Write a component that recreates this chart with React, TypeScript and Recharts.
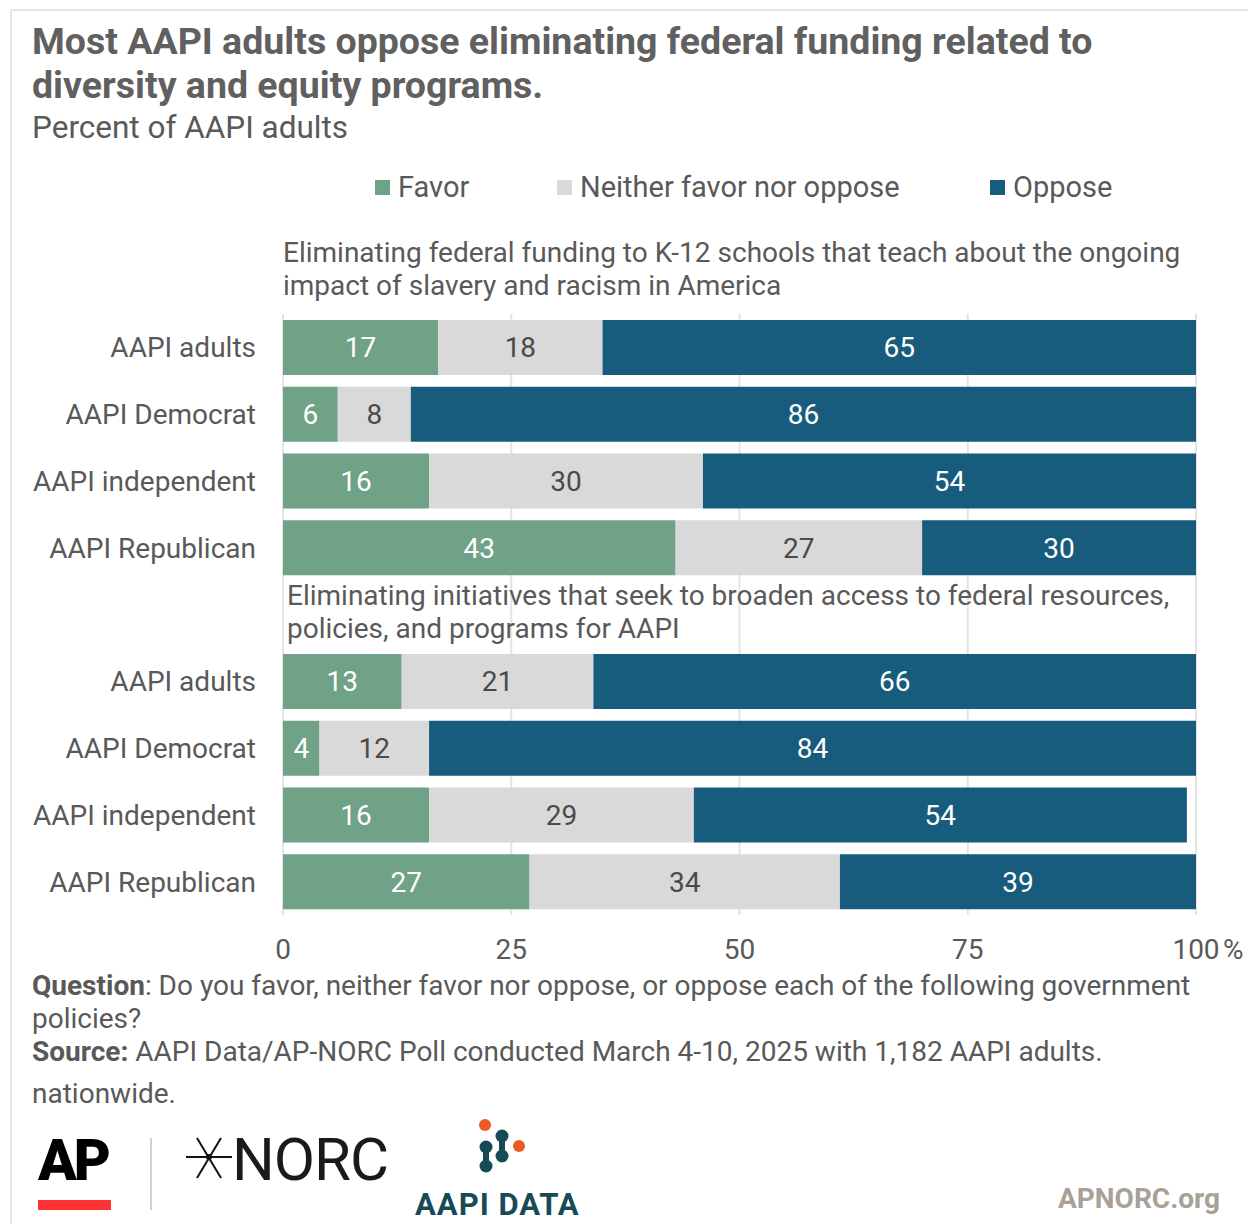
import React from 'react';
import { BarChart, Bar, XAxis, YAxis, CartesianGrid, LabelList } from 'recharts';

const GROUPS = ['AAPI adults', 'AAPI Democrat', 'AAPI independent', 'AAPI Republican'];
const FAVOR_K12 = [17, 6, 16, 43];
const NEITHER_K12 = [18, 8, 30, 27];
const OPPOSE_K12 = [65, 86, 54, 30];
const FAVOR_INIT = [13, 4, 16, 27];
const NEITHER_INIT = [21, 12, 29, 34];
const OPPOSE_INIT = [66, 84, 54, 39];
const HEADER_K12 = [
  'Eliminating federal funding to K-12 schools that teach about the ongoing',
  'impact of slavery and racism in America',
];
const HEADER_INIT = [
  'Eliminating initiatives that seek to broaden access to federal resources,',
  'policies, and programs for AAPI',
];
const X_TICKS = [0, 25, 50, 75, 100];

const FAVOR_COLOR = '#6fa287';
const NEITHER_COLOR = '#d9d9d9';
const OPPOSE_COLOR = '#175c7c';
const TEXT = '#595959';
const FONT = 'Roboto, "Noto Sans", sans-serif';

const PLOT_LEFT = 283;

type Row = { id: string; label: string; header?: string[]; favor?: number; neither?: number; oppose?: number };

const rows: Row[] = [
  ...GROUPS.map((g, i) => ({ id: 'a' + i, label: g, favor: FAVOR_K12[i], neither: NEITHER_K12[i], oppose: OPPOSE_K12[i] })),
  { id: 'h2', label: '', header: HEADER_INIT },
  ...GROUPS.map((g, i) => ({ id: 'b' + i, label: g, favor: FAVOR_INIT[i], neither: NEITHER_INIT[i], oppose: OPPOSE_INIT[i] })),
];

function CategoryTick(props: any) {
  const { y, payload } = props;
  const row = rows.find((r) => r.id === payload.value);
  if (!row) return null;
  if (row.header) {
    return (
      <g>
        {row.header.map((line, i) => (
          <text key={i} x={PLOT_LEFT + 4} y={y - 20 + i * 33} dy={10} fill={TEXT} fontSize={28} fontFamily={FONT}>
            {line}
          </text>
        ))}
      </g>
    );
  }
  return (
    <text x={256} y={y} dy={10} textAnchor="end" fill={TEXT} fontSize={28} fontFamily={FONT}>
      {row.label}
    </text>
  );
}

function ValueTick(props: any) {
  const { x, y, payload } = props;
  return (
    <g>
      <text x={x} y={y + 44} textAnchor="middle" fill={TEXT} fontSize={28} fontFamily={FONT}>
        {payload.value}
      </text>
      {payload.value === 100 && (
        <text x={x + 27} y={y + 44} fill={TEXT} fontSize={28} fontFamily={FONT}>
          %
        </text>
      )}
    </g>
  );
}

function Legend() {
  const items = [
    { name: 'Favor', color: FAVOR_COLOR, x: 375 },
    { name: 'Neither favor nor oppose', color: NEITHER_COLOR, x: 557 },
    { name: 'Oppose', color: OPPOSE_COLOR, x: 990 },
  ];
  return (
    <>
      {items.map((it) => (
        <div key={it.name} style={{ position: 'absolute', left: it.x, top: 170, height: 34, display: 'flex', alignItems: 'center' }}>
          <div style={{ width: 15, height: 15, background: it.color, marginRight: 8 }} />
          <span style={{ fontSize: 29, color: TEXT }}>{it.name}</span>
        </div>
      ))}
    </>
  );
}

function Logos() {
  return (
    <svg width={1248} height={140} style={{ position: 'absolute', left: 0, top: 1100 }}>
      <text x={38} y={80} fontSize={57} fontWeight={900} fontFamily={FONT} fill="#000" letterSpacing={-3}>AP</text>
      <rect x={38} y={100} width={73} height={10} fill="#ff3333" />
      <line x1={151} y1={38} x2={151} y2={110} stroke="#d0d0d0" strokeWidth={2} />
      <g stroke="#111" strokeWidth={2}>
        <line x1={186} y1={57} x2={232} y2={57} />
        <line x1={197} y1={38} x2={221} y2={78} />
        <line x1={221} y1={38} x2={197} y2={78} />
      </g>
      <circle cx={209} cy={57} r={3} fill="#111" />
      <text x={232} y={80} fontSize={60} fontFamily={FONT} fill="#1a1a1a" letterSpacing={-1}>NORC</text>
      <circle cx={485} cy={25} r={6} fill="#ee5a24" />
      <circle cx={519} cy={46} r={6} fill="#ee5a24" />
      <g fill="#184a56">
        <circle cx={486} cy={47} r={6.5} />
        <circle cx={486} cy={66} r={6.5} />
        <rect x={483} y={47} width={6} height={19} />
        <circle cx={502} cy={36} r={6.5} />
        <circle cx={502} cy={56} r={6.5} />
        <rect x={499} y={36} width={6} height={20} />
      </g>
      <text x={415} y={115} fontSize={31} fontWeight={700} fontFamily={FONT} fill="#184a56" letterSpacing={1}>AAPI DATA</text>
      <text x={1058} y={108} fontSize={28} fontWeight={700} fontFamily={FONT} fill="#a7a197">APNORC.org</text>
    </svg>
  );
}

export default function App() {
  return (
    <div style={{ position: 'absolute', left: 0, top: 0, width: 1248, height: 1224, background: '#fff', overflow: 'hidden', fontFamily: FONT }}>
      <div style={{ position: 'absolute', left: 10, top: 9, width: 1400, height: 1400, border: '2px solid #e6e6e6' }} />
      <div style={{ position: 'absolute', left: 32, top: 19, fontSize: 37.5, fontWeight: 700, lineHeight: '44px', color: '#606060' }}>
        Most AAPI adults oppose eliminating federal funding related to
        <br />
        diversity and equity programs.
      </div>
      <div style={{ position: 'absolute', left: 32, top: 109, fontSize: 31.5, lineHeight: '38px', color: TEXT }}>
        Percent of AAPI adults
      </div>
      <Legend />
      <div style={{ position: 'absolute', left: PLOT_LEFT, top: 236, fontSize: 28, lineHeight: '33px', color: TEXT }}>
        {HEADER_K12.map((l) => (
          <div key={l}>{l}</div>
        ))}
      </div>
      <div style={{ position: 'absolute', left: 0, top: 0 }}>
        <BarChart
          width={1248}
          height={1000}
          data={rows}
          layout="vertical"
          margin={{ top: 314, right: 52, bottom: 35, left: 0 }}
          barSize={55}
        >
          <CartesianGrid horizontal={false} stroke="#e3e3e3" strokeWidth={2} />
          <XAxis
            type="number"
            domain={[0, 100]}
            ticks={X_TICKS}
            axisLine={false}
            tickLine={false}
            tickSize={0}
            tickMargin={0}
            height={50}
            tick={<ValueTick />}
          />
          <YAxis
            type="category"
            dataKey="id"
            width={PLOT_LEFT}
            axisLine={false}
            tickLine={false}
            interval={0}
            tick={<CategoryTick />}
          />
          <Bar dataKey="favor" stackId="s" fill={FAVOR_COLOR} isAnimationActive={false}>
            <LabelList dataKey="favor" position="center" fill="#fff" fontSize={28} fontFamily={FONT} />
          </Bar>
          <Bar dataKey="neither" stackId="s" fill={NEITHER_COLOR} isAnimationActive={false}>
            <LabelList dataKey="neither" position="center" fill="#4a4a4a" fontSize={28} fontFamily={FONT} />
          </Bar>
          <Bar dataKey="oppose" stackId="s" fill={OPPOSE_COLOR} isAnimationActive={false}>
            <LabelList dataKey="oppose" position="center" fill="#fff" fontSize={28} fontFamily={FONT} />
          </Bar>
        </BarChart>
      </div>
      <div style={{ position: 'absolute', left: 32, top: 969, fontSize: 28, lineHeight: '33px', color: TEXT }}>
        <div>
          <b>Question</b>: Do you favor, neither favor nor oppose, or oppose each of the following government
        </div>
        <div>policies?</div>
        <div>
          <b>Source:</b> AAPI Data/AP-NORC Poll conducted March 4-10, 2025 with 1,182 AAPI adults.
        </div>
        <div style={{ marginTop: 9 }}>nationwide.</div>
      </div>
      <Logos />
    </div>
  );
}
